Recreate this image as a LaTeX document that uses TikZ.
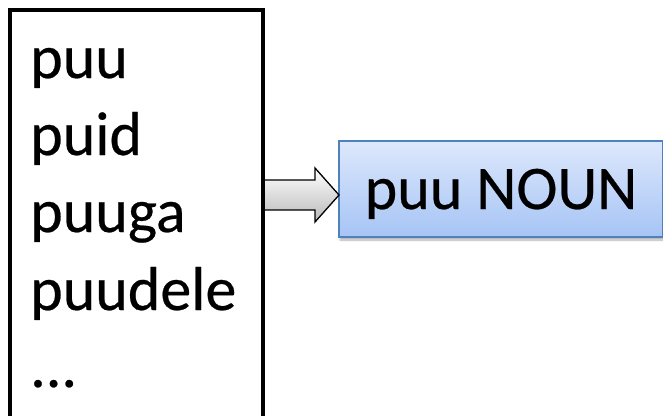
\documentclass[tikz,border=0pt]{standalone}
\usepackage{fontspec}
\setmainfont{Carlito}
\newfontfamily\wordfont{Carlito}[FakeBold=0.4]
\usetikzlibrary{calc,shadows.blur}
\definecolor{boxtop}{RGB}{221,232,252}
\definecolor{boxbot}{RGB}{166,196,245}
\definecolor{boxedge}{RGB}{79,129,189}
\definecolor{arrbot}{RGB}{185,185,185}
\begin{document}
\begin{tikzpicture}[x=1pt,y=-1pt,
  word/.style={anchor=base west,inner sep=0pt,font=\wordfont\fontsize{62}{74}\selectfont},
  listbox/.style={draw,line width=4pt,anchor=north west,inner sep=0pt,outer sep=0pt,minimum width=253pt,minimum height=440pt},
  tagbox/.style={draw=boxedge,line width=1.5pt,top color=boxtop,bottom color=boxbot,anchor=north west,inner sep=0pt,outer sep=0pt,minimum width=324pt,minimum height=96pt,text height=40pt,text depth=0pt,font=\wordfont\fontsize{62}{74}\selectfont,blur shadow={shadow xshift=1pt,shadow yshift=-3pt,shadow blur steps=6,shadow opacity=30}},
  blockarrow/.style={draw=black,line width=1.3pt,line join=miter,top color=white,bottom color=arrbot}]
\useasboundingbox (0,0) rectangle (663,415);
\clip (0,0) rectangle (663,415);
\node[listbox] (list) at (10,10) {};
\node[word] (w1) at (30,78) {puu};
\node[word] (w2) at (30,155) {puid};
\node[word] (w3) at (30,232) {puuga};
\node[word] (w4) at (30,310) {puudele};
\node[word] (w5) at (30,387) {...};
\node[tagbox] (tag) at (339,141) {puu NOUN};
\coordinate (a0) at (list.east |- 0,195);
\coordinate (a1) at (tag.west |- 0,195);
\draw[blockarrow] ($(a0)+(0,-15)$) -- ($(a1)+(-24,-15)$) -- ($(a1)+(-24,-27)$) -- (a1)
  -- ($(a1)+(-24,27)$) -- ($(a1)+(-24,15)$) -- ($(a0)+(0,15)$) -- cycle;
\draw[line width=4pt] (list.north east) -- (list.south east);
\end{tikzpicture}
\end{document}
